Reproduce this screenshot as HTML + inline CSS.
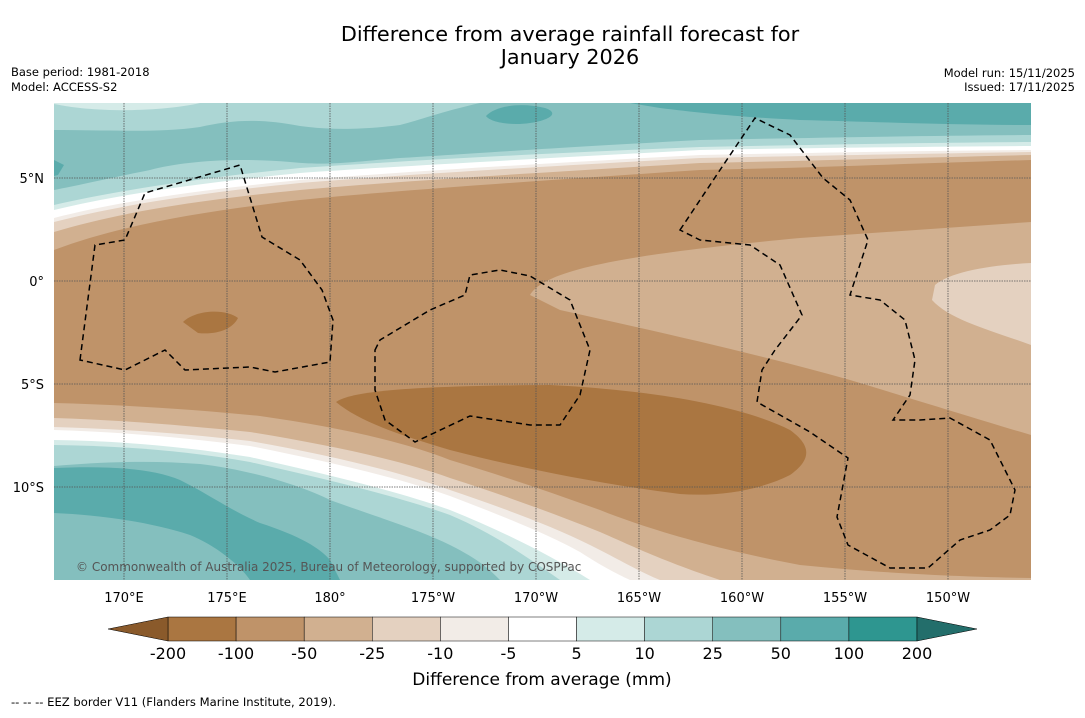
<!DOCTYPE html>
<html><head><meta charset="utf-8"><style>
body{margin:0;background:#fff;font-family:"Liberation Sans","DejaVu Sans",sans-serif;}
</style></head><body>
<svg id="fig" width="1085" height="713" viewBox="0 0 1085 713" xmlns="http://www.w3.org/2000/svg" font-family="DejaVu Sans, Liberation Sans, sans-serif">
<text x="570" y="41" font-size="20.8" text-anchor="middle">Difference from average rainfall forecast for</text>
<text x="570" y="64" font-size="20.8" text-anchor="middle">January 2026</text>
<text x="11" y="76" font-size="11.5">Base period: 1981-2018</text>
<text x="11" y="91" font-size="11.5">Model: ACCESS-S2</text>
<text x="1075" y="77" font-size="11.5" text-anchor="end">Model run: 15/11/2025</text>
<text x="1075" y="91" font-size="11.5" text-anchor="end">Issued: 17/11/2025</text>
<defs><clipPath id="mc"><rect x="54" y="103" width="977" height="477"/></clipPath></defs>
<g clip-path="url(#mc)">
<rect x="54" y="103" width="977" height="477" fill="#bf9369"/>
<path d="M530,295 C545,270 620,255 800,238 L1031,222 L1031,435 C980,420 900,395 850,380 C750,352 650,330 560,310 Z" fill="#d1b090"/>
<path d="M935,285 C950,272 990,265 1031,263 L1031,345 C990,330 950,320 932,300 Z" fill="#e4d1c0"/>
<path d="M336,402 C350,392 400,386 550,385 C650,390 740,405 790,430 C815,448 808,462 790,475 C760,490 720,497 680,494 C600,484 520,468 450,450 C400,435 360,422 336,402 Z" fill="#aa7641"/>
<path d="M183,322 C195,310 225,308 238,318 C232,330 215,335 198,333 Z" fill="#aa7641"/>
<path d="M54,103 L1031,103 L1031,160 C900,164 800,168 700,170 C550,180 400,190 300,200 C200,212 120,225 54,250 Z" fill="#d1b090"/>
<path d="M54,103 L1031,103 L1031,155 C900,158 800,161 700,163 C550,172 400,181 300,190 C200,200 120,212 54,232 Z" fill="#e4d1c0"/>
<path d="M54,103 L1031,103 L1031,152 C900,154 800,156 700,158 C550,166 400,175 300,183 C200,193 120,205 54,222 Z" fill="#f2ece7"/>
<path d="M54,103 L1031,103 L1031,150 C900,151 800,153 700,155 C550,163 400,172 300,180 C200,190 120,201 54,218 Z" fill="#ffffff"/>
<path d="M54,103 L1031,103 L1031,146 C900,147 800,148 700,150 C550,158 400,166 300,173 C200,183 120,194 54,210 Z" fill="#d5ebe8"/>
<path d="M54,103 L1031,103 L1031,142 C900,143 800,145 700,147 C550,153 400,161 300,168 C200,178 120,190 54,205 Z" fill="#acd6d4"/>
<path d="M54,103 L1031,103 L1031,135 C900,136 800,138 700,140 C550,148 450,155 400,158 C350,162 330,166 290,162 C230,157 180,162 150,170 C110,178 80,185 54,190 Z" fill="#84bfbe"/>
<path d="M54,103 L480,103 C440,112 420,120 400,125 C360,130 330,130 300,126 C260,118 230,120 200,127 C160,133 110,130 54,130 Z" fill="#acd6d4"/>
<path d="M54,103 L200,103 C180,108 140,111 110,110 C80,109 65,106 54,104 Z" fill="#d5ebe8"/>
<path d="M630,103 L1031,103 L1031,125 C950,125 880,122 800,120 C740,117 700,113 660,108 Z" fill="#5aabab"/>
<path d="M486,116 C495,106 520,102 545,108 C560,113 550,120 530,123 C510,126 490,122 486,116 Z" fill="#5aabab"/>
<path d="M54,160 L64,165 L58,175 L54,176 Z" fill="#5aabab"/>
<path d="M54,403 C130,405 200,410 260,416 C330,426 400,440 450,460 C500,475 550,492 600,510 C650,530 720,550 800,565 C900,575 980,577 1031,578 L1031,580 L54,580 Z" fill="#d1b090"/>
<path d="M54,418 C120,420 180,425 250,432 C330,445 400,460 450,478 C500,494 550,512 600,532 C630,545 660,560 720,580 L54,580 Z" fill="#e4d1c0"/>
<path d="M54,427 C120,429 180,433 250,441 C330,455 400,472 450,490 C500,507 550,525 590,545 C620,560 640,572 660,580 L54,580 Z" fill="#f2ece7"/>
<path d="M54,430 C120,432 180,437 250,446 C330,462 400,478 450,496 C500,515 550,535 580,552 C600,565 615,573 630,580 L54,580 Z" fill="#ffffff"/>
<path d="M54,440 C120,441 180,446 250,457 C330,475 400,492 450,510 C500,530 550,555 590,580 L54,580 Z" fill="#d5ebe8"/>
<path d="M54,445 C120,446 180,450 250,462 C330,480 400,497 450,515 C490,532 520,552 560,580 L54,580 Z" fill="#acd6d4"/>
<path d="M54,466 C100,462 150,460 200,464 C250,470 300,485 330,500 C380,518 420,530 450,545 C480,560 490,570 500,580 L54,580 Z" fill="#84bfbe"/>
<path d="M54,468 C100,466 150,467 180,480 C210,495 230,510 260,523 C300,536 320,548 330,560 L340,580 L250,580 C240,565 215,545 190,535 C150,522 100,515 54,513 Z" fill="#5aabab"/>
<g stroke="#555" stroke-width="0.8" stroke-dasharray="1.5,1" fill="none">
<path d="M124,103V580M227,103V580M330,103V580M433,103V580M536,103V580M639,103V580M742,103V580M845,103V580M948,103V580"/>
<path d="M54,178H1031M54,281H1031M54,384H1031M54,487H1031"/>
</g>
<g stroke="#000" stroke-width="1.5" stroke-dasharray="6,4" fill="none">
<path d="M80,360 L95,245 L125,240 L145,193 L240,165 L262,237 L300,260 L322,290 L333,320 L330,362 L275,372 L250,367 L185,370 L165,350 L125,370 Z"/>
<path d="M375,350 L380,340 L430,310 L465,295 L470,275 L500,270 L530,276 L570,300 L590,350 L580,395 L560,425 L530,425 L470,416 L415,442 L385,420 L375,390 Z"/>
<path d="M680,230 L720,170 L755,118 L790,135 L823,178 L850,200 L868,240 L850,295 L880,300 L905,320 L915,360 L910,395 L893,420 L920,420 L950,418 L990,440 L1015,490 L1010,515 L990,530 L960,540 L928,568 L890,568 L848,545 L837,517 L848,458 L810,432 L757,402 L762,370 L775,350 L802,315 L780,265 L750,245 L700,240 Z"/>
</g>
<text x="76" y="571" font-size="12" fill="#555">© Commonwealth of Australia 2025, Bureau of Meteorology, supported by COSPPac</text>
</g>
<g font-size="13" text-anchor="middle">
<text x="124" y="602">170°E</text><text x="227" y="602">175°E</text><text x="330" y="602">180°</text><text x="433" y="602">175°W</text><text x="536" y="602">170°W</text><text x="639" y="602">165°W</text><text x="742" y="602">160°W</text><text x="845" y="602">155°W</text><text x="948" y="602">150°W</text>
</g>
<g font-size="13" text-anchor="end">
<text x="44" y="183">5°N</text><text x="44" y="286">0°</text><text x="44" y="389">5°S</text><text x="44" y="492">10°S</text>
</g>
<g id="cbar"></g>
<text x="542" y="685" font-size="17" text-anchor="middle">Difference from average (mm)</text>
<text x="11" y="706" font-size="11.6">--  --  -- EEZ border V11 (Flanders Marine Institute, 2019).</text>
</svg>
<script>
const levels=["-200","-100","-50","-25","-10","-5","5","10","25","50","100","200"];
const colors=["#aa7641","#bf9369","#d1b090","#e4d1c0","#f2ece7","#ffffff","#d5ebe8","#acd6d4","#84bfbe","#5aabab","#2e9690"];
const extendColors=["#8a5a2b","#236e6b"];
const NS="http://www.w3.org/2000/svg";
const g=document.getElementById('cbar');
const x0=168,x1=917,y0=617,y1=641;
const w=(x1-x0)/colors.length;
function xAt(i){return x0+i*w;}
colors.forEach((c,i)=>{
 const r=document.createElementNS(NS,'rect');
 r.setAttribute('x',xAt(i));r.setAttribute('y',y0);r.setAttribute('width',w);r.setAttribute('height',y1-y0);
 r.setAttribute('fill',c);r.setAttribute('stroke','#000');r.setAttribute('stroke-width','0.5');
 
 
 g.appendChild(r);
});
const lt=document.createElementNS(NS,'polygon');
lt.setAttribute('points',`${x0},${y0} ${x0-60},${(y0+y1)/2} ${x0},${y1}`);
lt.setAttribute('fill',extendColors[0]);lt.setAttribute('stroke','#000');lt.setAttribute('stroke-width','0.5');


g.appendChild(lt);
const rt=document.createElementNS(NS,'polygon');
rt.setAttribute('points',`${x1},${y0} ${x1+60},${(y0+y1)/2} ${x1},${y1}`);
rt.setAttribute('fill',extendColors[1]);rt.setAttribute('stroke','#000');rt.setAttribute('stroke-width','0.5');


g.appendChild(rt);
levels.forEach((l,i)=>{
 const t=document.createElementNS(NS,'text');
 t.setAttribute('x',xAt(i));t.setAttribute('y',659);t.setAttribute('font-size','16');t.setAttribute('text-anchor','middle');
 t.textContent=l;
 
 
 g.appendChild(t);
});
</script>
</body></html>
